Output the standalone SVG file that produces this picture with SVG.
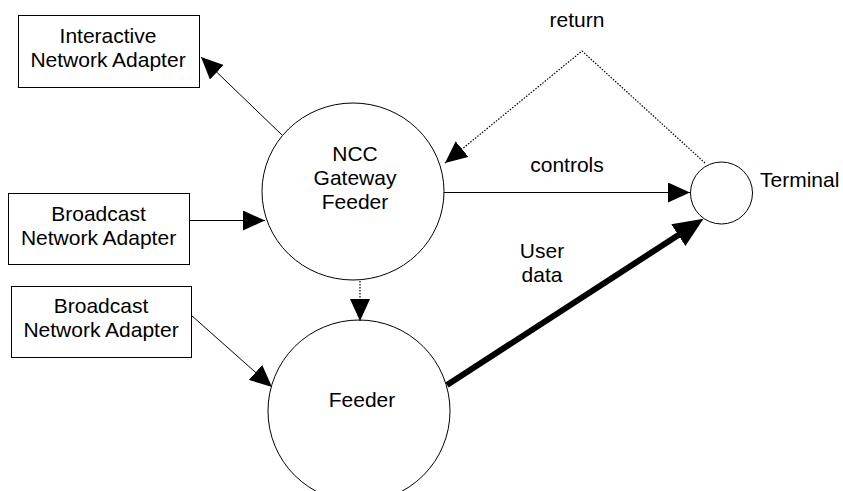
<svg xmlns="http://www.w3.org/2000/svg" width="843" height="491" viewBox="0 0 843 491">
<style>
text{font-family:"Liberation Sans",Arial,sans-serif;font-size:21px;fill:#000;text-anchor:middle}
.box{fill:#fff;stroke:#000;stroke-width:1}
.node{fill:#fff;stroke:#000;stroke-width:1}
.ln{fill:none;stroke:#000;stroke-width:1}
.dot{fill:none;stroke:#000;stroke-width:1.2;stroke-dasharray:1.5,1.5}
.thick{fill:none;stroke:#000;stroke-width:6}
</style>
<defs>
<marker id="ah" markerUnits="userSpaceOnUse" markerWidth="22" markerHeight="20" refX="22" refY="10" orient="auto">
<path d="M0,0 L22,10 L0,20 Z" fill="#000"/>
</marker>
<marker id="ahb" markerUnits="userSpaceOnUse" markerWidth="30" markerHeight="26" refX="2" refY="13" orient="auto">
<path d="M0,0 L30,13 L0,26 Z" fill="#000"/>
</marker>
</defs>
<g id="n-ina">
<rect class="box" x="18.5" y="15.5" width="181" height="72"/>
<text x="108" y="43">Interactive</text>
<text x="108" y="67">Network Adapter</text>
</g>
<g id="n-bna1">
<rect class="box" x="8.5" y="193.5" width="181" height="71"/>
<text x="98.5" y="221">Broadcast</text>
<text x="98.5" y="245">Network Adapter</text>
</g>
<g id="n-bna2">
<rect class="box" x="11.5" y="286.5" width="180" height="71"/>
<text x="101" y="313">Broadcast</text>
<text x="101" y="337">Network Adapter</text>
</g>
<g id="n-ncc">
<ellipse class="node" cx="353" cy="191.5" rx="91" ry="88.5"/>
<text x="355" y="161">NCC</text>
<text x="355" y="185">Gateway</text>
<text x="355" y="209">Feeder</text>
</g>
<g id="n-feeder">
<circle class="node" cx="359" cy="411" r="91"/>
<text x="362" y="407">Feeder</text>
</g>
<g id="n-terminal">
<circle class="node" cx="721.5" cy="193" r="31"/>
<text x="760" y="187" style="text-anchor:start">Terminal</text>
</g>
<g id="connectors">
<line class="ln" x1="282" y1="135" x2="201" y2="57" marker-end="url(#ah)"/>
<line class="ln" x1="189" y1="220.5" x2="265" y2="220.5" marker-end="url(#ah)"/>
<line class="ln" x1="191" y1="315" x2="272" y2="387" marker-end="url(#ah)"/>
<line class="dot" x1="360" y1="281" x2="360" y2="321" marker-end="url(#ah)"/>
<line class="ln" x1="444" y1="192.5" x2="690" y2="192.5" marker-end="url(#ah)"/>
<polyline class="dot" points="705,163 582,51 445,163" marker-end="url(#ah)"/>
<line class="thick" x1="447" y1="385" x2="680" y2="234" marker-end="url(#ahb)"/>
<text x="577" y="27">return</text>
<text x="567" y="172">controls</text>
<text x="542" y="258">User</text>
<text x="542" y="282">data</text>
</g>
</svg>
